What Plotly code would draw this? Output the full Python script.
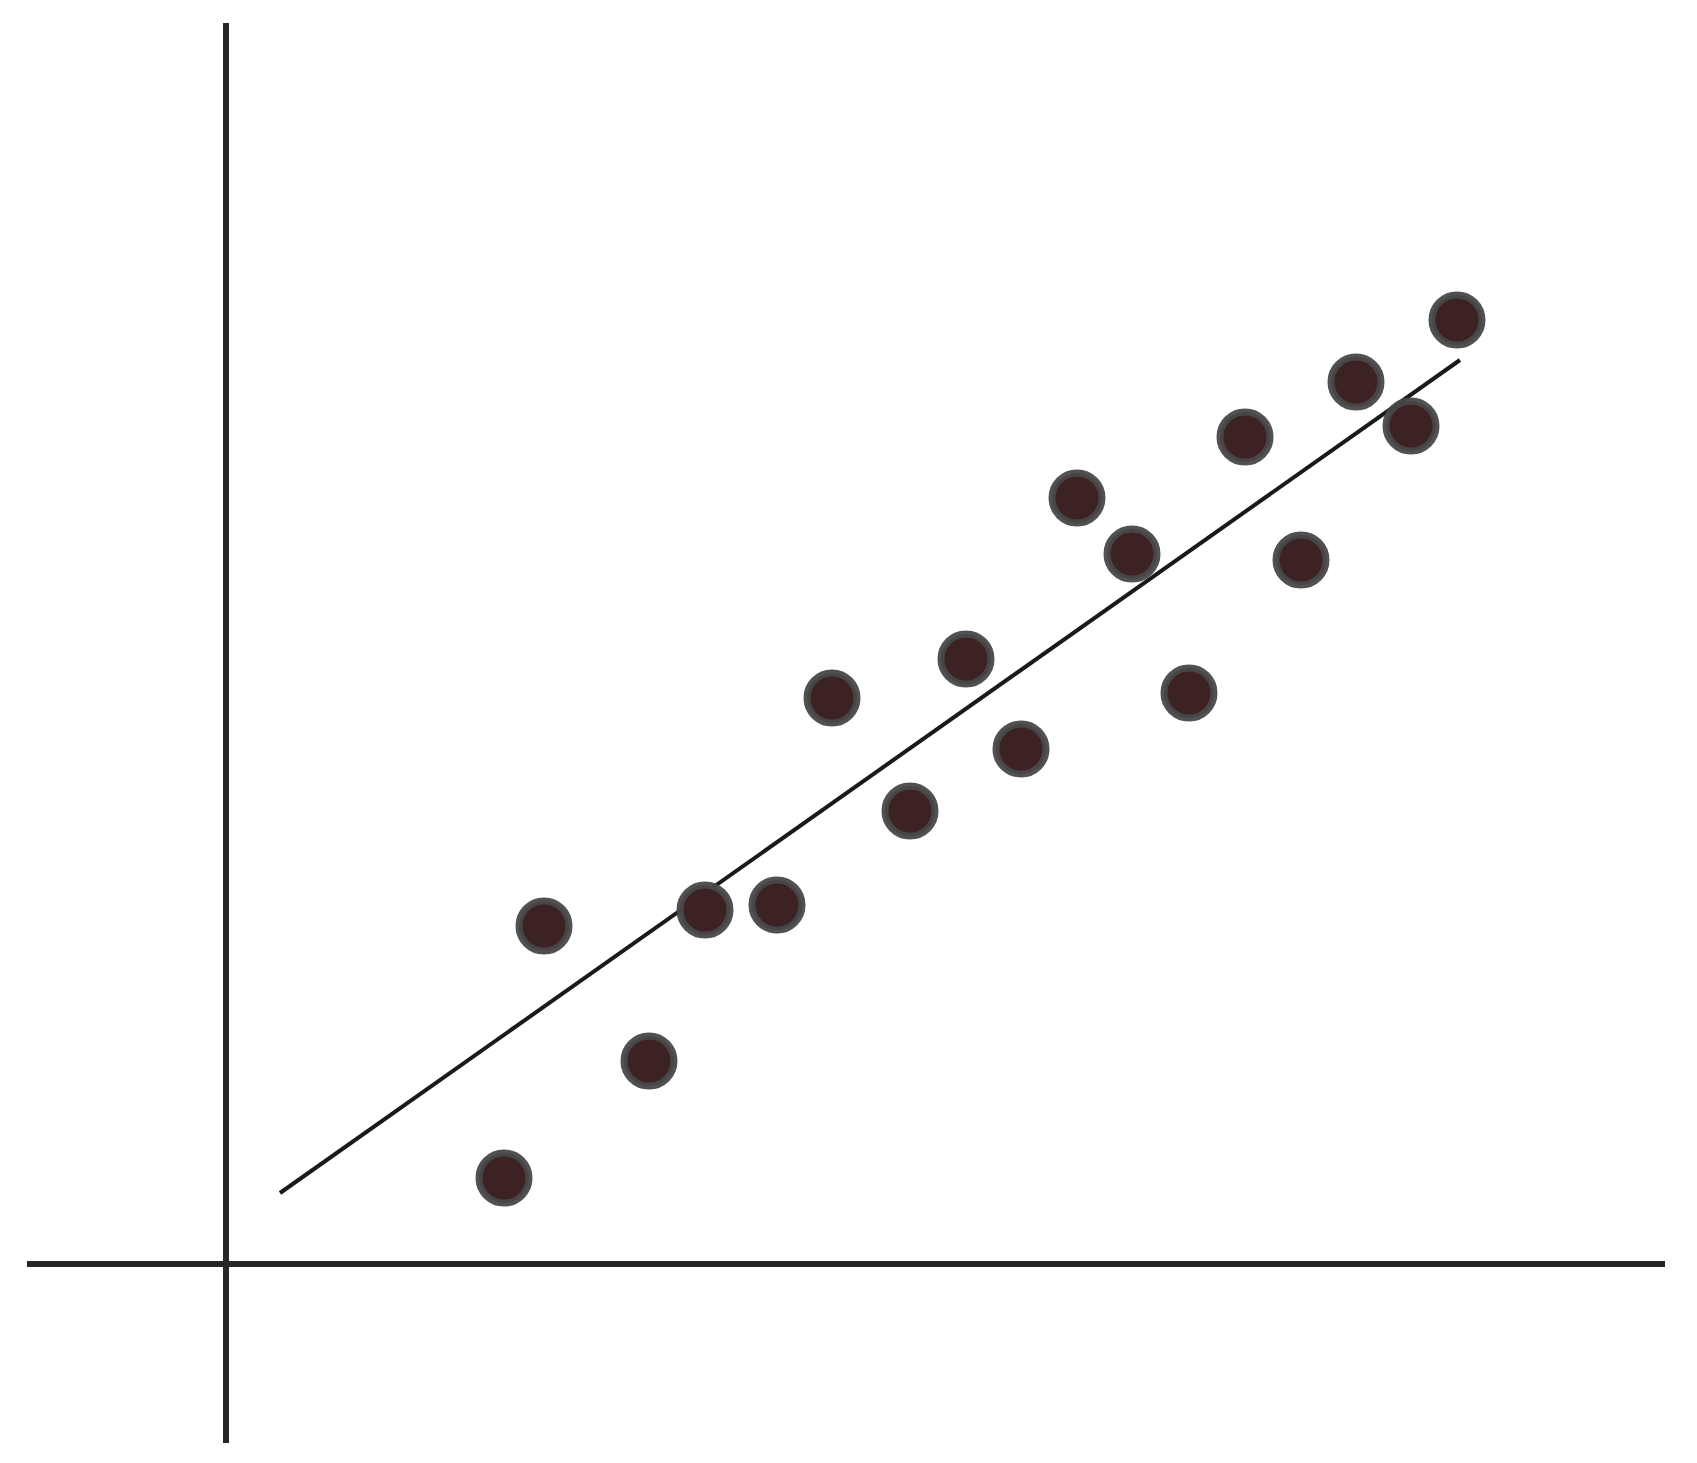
import plotly.graph_objects as go

# Scatter data (arbitrary units, origin at axis crossing)
x_vals = [27.8, 31.8, 42.3, 47.9, 55.1, 60.6, 68.4, 74.0, 79.5, 85.1, 90.6, 96.3, 101.9, 107.5, 113.0, 118.5, 123.1]
y_vals = [8.6, 33.8, 20.3, 35.4, 35.9, 56.6, 45.3, 60.5, 51.5, 76.6, 71.0, 57.1, 82.7, 70.4, 88.2, 83.8, 94.4]

# Trend line endpoints
trend_x = [5.4, 123.4]
trend_y = [7.1, 90.4]

# Axis extents
x_range = [-19.9, 143.9]
y_range = [-17.9, 124.1]

fig = go.Figure()

fig.add_trace(go.Scatter(
    x=trend_x, y=trend_y, mode="lines",
    line=dict(color="#1a1a1a", width=4),
    showlegend=False, hoverinfo="skip",
))

fig.add_trace(go.Scatter(
    x=x_vals, y=y_vals, mode="markers",
    marker=dict(size=50, color="#3c2222",
                line=dict(color="rgba(72,72,72,0.95)", width=7)),
    showlegend=False,
))

axis_common = dict(showgrid=False, showticklabels=False, ticks="",
                   showline=False, zeroline=True, zerolinecolor="#262626",
                   zerolinewidth=6)

fig.update_layout(
    width=1697, height=1463,
    margin=dict(l=19, r=40, t=15, b=28),
    paper_bgcolor="white", plot_bgcolor="white",
    xaxis=dict(range=x_range, **axis_common),
    yaxis=dict(range=y_range, **axis_common),
)

fig.write_html("out.html")
